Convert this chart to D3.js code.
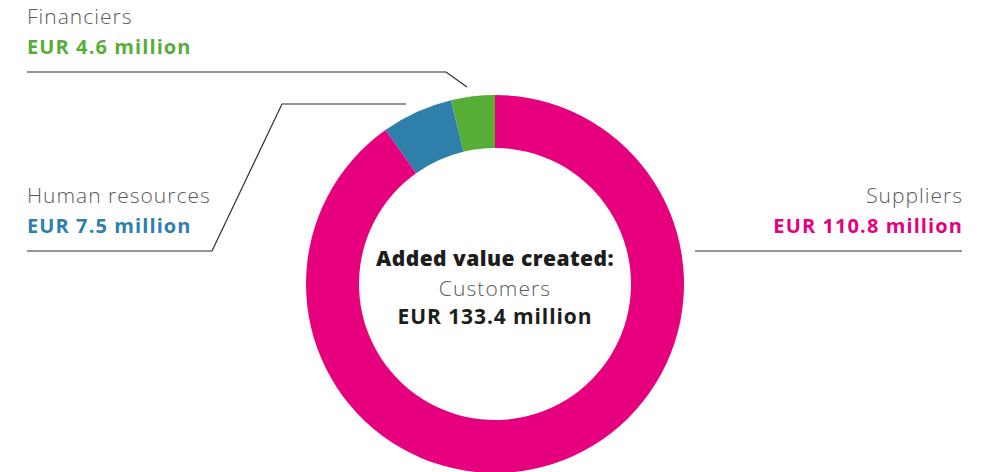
<!DOCTYPE html>
<meta charset="utf-8">
<script src="https://d3js.org/d3.v7.min.js"></script>
<style>
  body { margin: 0; background: #fff; }
  svg text { font-family: "Open Sans", Lato, sans-serif; }
</style>
<div id="chart"></div>
<script>

// data
var categories = ["Financiers", "Human resources", "Suppliers"];
var values = [4.6, 7.5, 110.8];
var valueLabels = ["EUR 4.6 million", "EUR 7.5 million", "EUR 110.8 million"];
var colors = ["#56ae36", "#2e80ab", "#e6007e"];
var centerTitle = "Added value created:";
var centerName = "Customers";
var centerValue = "EUR 133.4 million";

var width = 989, height = 472;
var cx = 495, cy = 284, outerR = 189, innerR = 136;

var svg = d3.select("#chart")
  .append("svg")
    .attr("width", width)
    .attr("height", height);

// slices run counter-clockwise from 12 o'clock
var pie = d3.pie()
  .sort(null)
  .startAngle(0)
  .endAngle(-2 * Math.PI)
  .value(function(d) { return d; });

var arc = d3.arc()
  .innerRadius(innerR)
  .outerRadius(outerR);

var g = svg.append("g")
  .attr("transform", "translate(" + cx + "," + cy + ")");

g.selectAll("path")
  .data(pie(values))
  .enter()
  .append("path")
    .attr("d", arc)
    .attr("fill", function(d, i) { return colors[i]; });

// centre text
g.append("text")
  .attr("text-anchor", "middle")
  .attr("y", -18)
  .style("font-size", "21px")
  .style("font-weight", 800)
  .style("letter-spacing", "0.45px")
  .style("fill", "#1d1d1b")
  .text(centerTitle);
g.append("text")
  .attr("text-anchor", "middle")
  .attr("y", 12)
  .style("font-size", "21px")
  .style("font-weight", 300)
  .style("letter-spacing", "1.1px")
  .style("fill", "#5a5a5a")
  .text(centerName);
g.append("text")
  .attr("text-anchor", "middle")
  .attr("y", 40)
  .style("font-size", "21px")
  .style("font-weight", 700)
  .style("letter-spacing", "0.9px")
  .style("fill", "#1d1d1b")
  .text(centerValue);

// labels + leader lines (layout)
var labels = [
  {x: 27, y: 24, anchor: "start", line: [[27, 72], [446, 72], [467, 87]]},
  {x: 27, y: 203, anchor: "start", line: [[27, 251], [212, 251], [282, 104], [406, 104]]},
  {x: 963, y: 203, anchor: "end", line: [[695, 251], [962, 251]]}
];

var lg = svg.selectAll("g.label")
  .data(labels)
  .enter()
  .append("g")
    .attr("class", "label");

lg.append("path")
  .attr("d", function(d) { return d3.line()(d.line); })
  .attr("fill", "none")
  .attr("stroke", "#2b2b2b")
  .attr("stroke-width", 1.2);

lg.append("text")
  .attr("x", function(d) { return d.x; })
  .attr("y", function(d) { return d.y; })
  .attr("text-anchor", function(d) { return d.anchor; })
  .style("font-size", "21px")
  .style("font-weight", 300)
  .style("letter-spacing", "1px")
  .style("fill", "#5a5a5a")
  .text(function(d, i) { return categories[i]; });

lg.append("text")
  .attr("x", function(d) { return d.x; })
  .attr("y", function(d) { return d.y + 30; })
  .attr("text-anchor", function(d) { return d.anchor; })
  .style("font-size", "20px")
  .style("font-weight", 700)
  .style("letter-spacing", "1.1px")
  .style("fill", function(d, i) { return colors[i]; })
  .text(function(d, i) { return valueLabels[i]; });

</script>
